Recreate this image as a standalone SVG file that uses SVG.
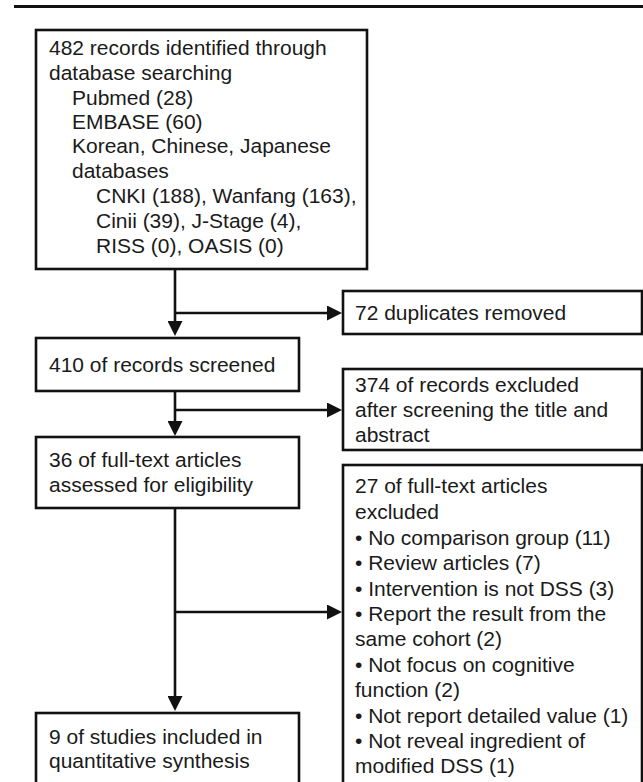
<svg xmlns="http://www.w3.org/2000/svg" width="643" height="782" viewBox="0 0 643 782">
<defs>
<style>
.box{fill:#fff;stroke:#111;stroke-width:2.6}
.t{font-family:"Liberation Sans",Arial,sans-serif;font-size:19.5px;fill:#1a1a1a;transform-box:fill-box;transform-origin:0 0;transform:scaleX(1.077)}
.c{fill:none;stroke:#111;stroke-width:2.6}
</style>
<marker id="ah" markerUnits="userSpaceOnUse" markerWidth="15" markerHeight="15" refX="1" refY="7.5" orient="auto">
<path d="M0,0 L15,7.5 L0,15 Z" fill="#111"/>
</marker>
</defs>
<rect width="643" height="782" fill="#fff"/>
<line x1="14" y1="6.5" x2="643" y2="6.5" stroke="#111" stroke-width="2.8"/>

<g id="connectors">
<path class="c" d="M175,269 V322" marker-end="url(#ah)"/>
<path class="c" d="M175,313 H328" marker-end="url(#ah)"/>
<path class="c" d="M175,391 V422" marker-end="url(#ah)"/>
<path class="c" d="M175,410 H328" marker-end="url(#ah)"/>
<path class="c" d="M175,508 V697" marker-end="url(#ah)"/>
<path class="c" d="M175,612 H328" marker-end="url(#ah)"/>
</g>

<g id="identified">
<rect class="box" x="36" y="30" width="331" height="239"/>
<text class="t" x="49" y="55">482 records identified through</text>
<text class="t" x="49" y="80">database searching</text>
<text class="t" x="72" y="105">Pubmed (28)</text>
<text class="t" x="72" y="129">EMBASE (60)</text>
<text class="t" x="72" y="153">Korean, Chinese, Japanese</text>
<text class="t" x="72" y="178">databases</text>
<text class="t" x="96" y="203">CNKI (188), Wanfang (163),</text>
<text class="t" x="96" y="228">Cinii (39), J-Stage (4),</text>
<text class="t" x="96" y="253">RISS (0), OASIS (0)</text>
</g>

<g id="duplicates">
<rect class="box" x="343" y="291" width="299" height="43"/>
<text class="t" x="355" y="320">72 duplicates removed</text>
</g>

<g id="screened">
<rect class="box" x="36" y="338" width="263" height="53"/>
<text class="t" x="49" y="372">410 of records screened</text>
</g>

<g id="excluded1">
<rect class="box" x="343" y="369" width="299" height="81"/>
<text class="t" x="355" y="392">374 of records excluded</text>
<text class="t" x="355" y="417">after screening the title and</text>
<text class="t" x="355" y="442">abstract</text>
</g>

<g id="fulltext">
<rect class="box" x="36" y="437" width="263" height="71"/>
<text class="t" x="49" y="467">36 of full-text articles</text>
<text class="t" x="49" y="492">assessed for eligibility</text>
</g>

<g id="excluded2">
<rect class="box" x="343" y="465" width="299" height="330"/>
<text class="t" x="355" y="493">27 of full-text articles</text>
<text class="t" x="355" y="519">excluded</text>
<text class="t" x="355" y="545">• No comparison group (11)</text>
<text class="t" x="355" y="570">• Review articles (7)</text>
<text class="t" x="355" y="596">• Intervention is not DSS (3)</text>
<text class="t" x="355" y="621">• Report the result from the</text>
<text class="t" x="355" y="646">same cohort (2)</text>
<text class="t" x="355" y="672">• Not focus on cognitive</text>
<text class="t" x="355" y="697">function (2)</text>
<text class="t" x="355" y="723">• Not report detailed value (1)</text>
<text class="t" x="355" y="748">• Not reveal ingredient of</text>
<text class="t" x="355" y="773">modified DSS (1)</text>
</g>

<g id="included">
<rect class="box" x="36" y="713" width="263" height="82"/>
<text class="t" x="49" y="744">9 of studies included in</text>
<text class="t" x="49" y="768">quantitative synthesis</text>
</g>
</svg>
